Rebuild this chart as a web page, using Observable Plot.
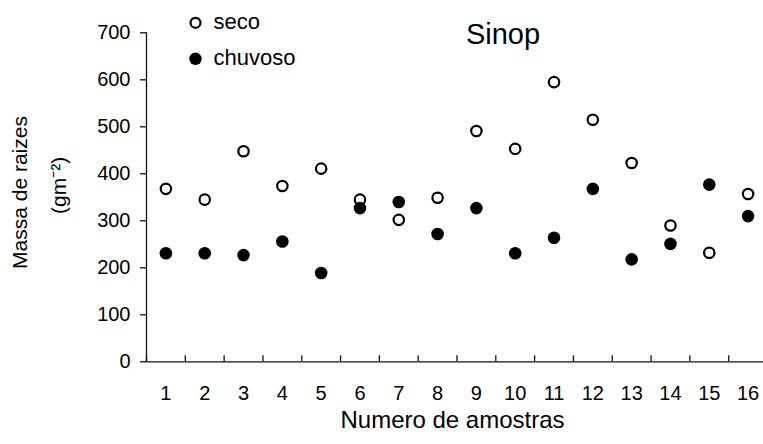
<!DOCTYPE html>
<html><head><meta charset="utf-8">
<script src="https://cdn.jsdelivr.net/npm/d3@7"></script>
<script src="https://cdn.jsdelivr.net/npm/@observablehq/plot@0.6"></script>
<style>html,body{margin:0;padding:0;background:#fff;} #chart svg{display:block;}</style>
</head><body><div id="chart"></div>
<script>
// ---- data ----
const amostras = [1, 2, 3, 4, 5, 6, 7, 8, 9, 10, 11, 12, 13, 14, 15, 16];
const seco     = [368, 345, 448, 374, 411, 345, 302, 349, 491, 453, 595, 515, 423, 290, 232, 357];
const chuvoso  = [231, 231, 227, 256, 189, 327, 340, 272, 327, 231, 264, 368, 218, 251, 377, 310];
const yTicks   = [0, 100, 200, 300, 400, 500, 600, 700];
const series   = ["seco", "chuvoso"];
const title    = "Sinop";
const xTitle   = "Numero de amostras";
const yTitle1  = "Massa de raizes";
const yTitle2  = "(gm\u207B\u00B2)";

const secoRows = amostras.map((a, i) => ({amostra: a, valor: seco[i]}));
const chuvRows = amostras.map((a, i) => ({amostra: a, valor: chuvoso[i]}));
const bounds = amostras.map(a => a - 0.5).concat([amostras[amostras.length - 1] + 0.5]);

const font = "'Liberation Sans', Arial, Helvetica, sans-serif";
const ink = "#111";

const chart = Plot.plot({
  width: 763,
  height: 444,
  marginLeft: 146,
  marginRight: 0,
  marginTop: 32.3,
  marginBottom: 82.7,
  style: {fontFamily: font, background: "#fff", color: ink},
  x: {type: "linear", domain: [0.5, 16.5], range: [146, 767]},
  y: {domain: [0, 700], range: [361.3, 32.3]},
  marks: [
    Plot.axisY({ticks: yTicks, tickSize: 6, tickPadding: 10, fontSize: 20, letterSpacing: 2, label: null, stroke: ink, strokeWidth: 1.3, fill: "#000"}),
    Plot.axisX({ticks: amostras, tickSize: 0, tickPadding: 23.5, fontSize: 20, letterSpacing: 0.5, label: null, fill: "#000", tickFormat: d => String(d)}),
    Plot.axisX({ticks: bounds, tickSize: 6, dy: -6, text: null, label: null, stroke: ink, strokeWidth: 1.3}),
    Plot.ruleX([0.5], {stroke: ink, strokeWidth: 1.3}),
    Plot.ruleY([0], {stroke: ink, strokeWidth: 1.3}),
    Plot.dot(secoRows, {x: "amostra", y: "valor", r: 5.2, fill: "#fff", stroke: "#000", strokeWidth: 2.2}),
    Plot.dot(chuvRows, {x: "amostra", y: "valor", r: 6.3, fill: "#000", stroke: "none"}),
    // legend
    Plot.dot([series[0]], {frameAnchor: "top-left", dx: 49, dy: -10, r: 5, fill: "#fff", stroke: "#000", strokeWidth: 2.2}),
    Plot.dot([series[1]], {frameAnchor: "top-left", dx: 49, dy: 26, r: 6.2, fill: "#000"}),
    Plot.text([series[0]], {text: d => d, frameAnchor: "top-left", dx: 67, dy: -10.8, textAnchor: "start", lineAnchor: "middle", fontSize: 22, letterSpacing: 0.5, fill: "#000"}),
    Plot.text([series[1]], {text: d => d, frameAnchor: "top-left", dx: 67, dy: 25.5, textAnchor: "start", lineAnchor: "middle", fontSize: 22, letterSpacing: 0.4, fill: "#000"}),
    // title
    Plot.text([title], {text: d => d, frameAnchor: "top-left", dx: 356.5, dy: 1.5, textAnchor: "middle", lineAnchor: "middle", fontSize: 29, fill: "#000"}),
    // axis titles
    Plot.text([xTitle], {text: d => d, frameAnchor: "bottom-left", dx: 306, dy: 59, textAnchor: "middle", lineAnchor: "middle", fontSize: 24, letterSpacing: 0.8, fill: "#000"}),
    Plot.text([yTitle1], {text: d => d, frameAnchor: "left", dx: -126, dy: -4.8, rotate: -90, textAnchor: "middle", lineAnchor: "middle", fontSize: 21, fill: "#000"}),
    Plot.text([yTitle2], {text: d => d, frameAnchor: "left", dx: -87, dy: -12, rotate: -90, textAnchor: "middle", lineAnchor: "middle", fontSize: 21, fill: "#000"})
  ]
});
document.getElementById("chart").appendChild(chart);
</script>
</body></html>
